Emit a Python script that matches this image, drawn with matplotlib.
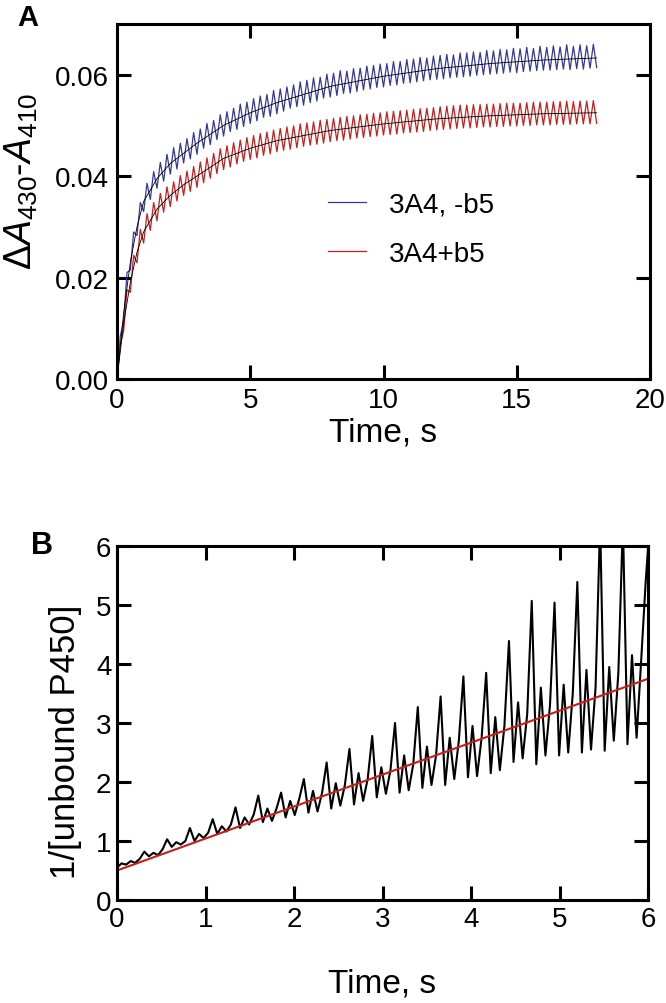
import numpy as np
import matplotlib
matplotlib.use("Agg")
import matplotlib.pyplot as plt

plt.rcParams['font.family'] = ['Liberation Sans', 'DejaVu Sans']
plt.rcParams['mathtext.fontset'] = 'custom'
plt.rcParams['mathtext.rm'] = 'Liberation Sans'
plt.rcParams['mathtext.it'] = 'Liberation Sans:italic'

# ---- panel A data (absorbance in units of 1e-3), sampled every 0.125 s from 0 to 18 s ----
dt_a = 0.125
blue_mabs = [
    0.0, 8.5, 11.5, 21.0, 21.5, 29.0, 28.3, 34.8, 33.0, 38.6, 35.4, 40.9, 37.6, 42.7, 39.0, 44.3,
    40.4, 45.6, 41.4, 46.5, 42.6, 47.4, 43.4, 48.6, 44.3, 49.3, 45.5, 50.4, 46.2, 51.0, 47.2, 52.1,
    47.9, 52.7, 48.8, 53.4, 49.2, 54.2, 49.8, 54.6, 50.4, 55.3, 50.9, 55.8, 51.6, 56.1, 51.8, 56.9,
    52.3, 57.2, 52.8, 57.6, 53.4, 58.0, 53.7, 58.6, 54.0, 58.9, 54.5, 59.4, 54.8, 59.5, 55.4, 60.1,
    55.6, 60.3, 55.9, 60.8, 56.3, 60.7, 56.4, 61.2, 56.7, 61.3, 57.0, 61.7, 57.2, 61.8, 57.5, 62.1,
    57.6, 62.2, 57.9, 62.6, 58.0, 62.6, 58.3, 63.0, 58.4, 63.1, 58.6, 63.4, 58.8, 63.3, 59.0, 63.7,
    59.1, 63.8, 59.2, 64.0, 59.4, 63.9, 59.5, 64.3, 59.6, 64.3, 59.7, 64.5, 59.9, 64.4, 60.0, 64.8,
    60.1, 64.7, 60.2, 65.0, 60.3, 64.9, 60.5, 65.2, 60.4, 65.1, 60.6, 65.4, 60.7, 65.2, 60.8, 65.6,
    60.9, 65.4, 60.9, 65.7, 61.0, 65.5, 61.1, 65.9, 61.0, 65.6, 61.2, 65.9, 61.1, 65.7, 61.3, 66.0,
    61.4,
]
red_mabs = [
    0.0, 6.8, 9.5, 17.6, 17.1, 24.4, 22.9, 29.5, 26.8, 32.6, 29.3, 34.8, 31.2, 36.6, 32.9, 37.9,
    34.0, 38.9, 35.1, 40.1, 36.2, 41.0, 37.0, 41.9, 37.8, 42.8, 38.7, 43.6, 39.6, 44.5, 40.5, 45.4,
    41.3, 46.0, 41.8, 46.6, 42.4, 47.1, 42.9, 47.6, 43.3, 48.0, 43.6, 48.4, 44.1, 48.7, 44.4, 49.1,
    44.8, 49.4, 45.1, 49.7, 45.3, 49.9, 45.6, 50.3, 45.9, 50.5, 46.1, 50.7, 46.3, 51.0, 46.5, 51.2,
    46.8, 51.4, 47.0, 51.6, 47.1, 51.8, 47.3, 51.9, 47.5, 52.1, 47.6, 52.2, 47.8, 52.4, 47.9, 52.5,
    48.1, 52.7, 48.2, 52.8, 48.3, 52.9, 48.5, 53.0, 48.6, 53.2, 48.7, 53.3, 48.8, 53.4, 49.0, 53.5,
    49.1, 53.7, 49.2, 53.8, 49.3, 53.9, 49.4, 54.0, 49.5, 54.0, 49.5, 54.1, 49.6, 54.1, 49.7, 54.2,
    49.7, 54.2, 49.8, 54.3, 49.8, 54.4, 49.9, 54.4, 49.9, 54.4, 50.0, 54.5, 50.0, 54.6, 50.1, 54.6,
    50.1, 54.6, 50.1, 54.7, 50.2, 54.7, 50.2, 54.8, 50.2, 54.7, 50.3, 54.8, 50.3, 54.8, 50.3, 54.9,
    50.4,
]
# fitted curves
fit_t_a = [0, 0.25, 0.5, 0.75, 1, 1.5, 2, 2.5, 3, 4, 5, 6, 8, 10, 12, 14, 16, 18]
fit_blue = [0, 0.013, 0.023, 0.030, 0.035, 0.0395, 0.0425, 0.0445, 0.0465, 0.050,
            0.0525, 0.0545, 0.0577, 0.0597, 0.0612, 0.0622, 0.0629, 0.0633]
fit_red = [0, 0.011, 0.019, 0.025, 0.029, 0.0335, 0.0362, 0.0383, 0.040, 0.0435,
           0.0455, 0.047, 0.049, 0.0503, 0.0513, 0.0519, 0.0523, 0.0525]

# ---- panel B data, sampled every 0.0515 s ----
dt_b = 0.0515
inv_unbound = [
    0.55,
    0.62, 0.60, 0.66, 0.63, 0.70,
    0.82, 0.74, 0.80, 0.76, 0.86,
    1.03, 0.90, 0.98, 0.94, 1.00,
    1.22, 1.00, 1.12, 1.05, 1.14,
    1.37, 1.12, 1.25, 1.16, 1.28,
    1.57, 1.22, 1.40, 1.28, 1.45,
    1.77, 1.32, 1.55, 1.34, 1.55,
    1.82, 1.40, 1.68, 1.44, 1.72,
    2.05, 1.48, 1.85, 1.50, 1.82,
    2.33, 1.55, 1.98, 1.60, 1.95,
    2.56, 1.62, 2.15, 1.68, 2.05,
    2.78, 1.74, 2.25, 1.80, 2.20,
    3.00, 1.82, 2.45, 1.86, 2.30,
    3.27, 1.90, 2.60, 1.95, 2.45,
    3.45, 1.95, 2.75, 2.05, 2.70,
    3.79, 2.08, 2.95, 2.10, 2.75,
    3.85, 2.15, 3.10, 2.20, 2.95,
    4.39, 2.34, 3.35, 2.40, 3.15,
    5.07, 2.30, 3.60, 2.45, 3.30,
    5.04, 2.45, 3.65, 2.50, 3.50,
    5.39, 2.50, 3.90, 2.55, 3.60,
    6.40, 2.53, 3.95, 2.70, 3.85,
    6.40, 2.64, 4.15, 2.75, 4.05,
    5.40, 6.50,
]
fit_t_b = [0, 6]
fit_b = [0.5, 3.75]

t_a = np.arange(len(blue_mabs)) * dt_a
t_b = np.arange(len(inv_unbound)) * dt_b

blue = '#35389a'
red = '#c41f1d'

fig = plt.figure(figsize=(6.66, 10.04), dpi=100)
axA = fig.add_axes([117/666, 1-380/1004, 533/666, 355/1004])
axB = fig.add_axes([117/666, 1-901/1004, 531/666, 354/1004])

axA.plot(t_a, np.array(blue_mabs)*1e-3, color=blue, lw=0.9, label='3A4, -b5')
axA.plot(t_a, np.array(red_mabs)*1e-3, color=red, lw=0.9, label='3A4+b5')
axA.plot(fit_t_a, fit_blue, color='k', lw=0.6)
axA.plot(fit_t_a, fit_red, color='k', lw=0.6)
axA.set_xlim(0, 20)
axA.set_ylim(0, 0.07)
axA.set_xticks([0, 5, 10, 15, 20])
axA.set_yticks([0, 0.02, 0.04, 0.06])
axA.set_yticklabels(['0.00', '0.02', '0.04', '0.06'])
axA.set_xlabel('Time, s', fontsize=24, labelpad=2)
axA.set_ylabel('Δ$\\mathit{A}_{430}$-$\\mathit{A}_{410}$', fontsize=27)
axA.yaxis.set_label_coords(-0.145, 0.56)
axA.legend(loc='upper left', bbox_to_anchor=(0.395, 0.527), frameon=False, fontsize=20,
           handlelength=1.4, handletextpad=0.8, labelspacing=0.82, borderpad=0, borderaxespad=0)

axB.plot(t_b, inv_unbound, color='k', lw=1.5)
axB.plot(fit_t_b, fit_b, color=red, lw=1.5)
axB.set_xlim(0, 6)
axB.set_ylim(0, 6)
axB.set_xticks(range(7))
axB.set_yticks(range(7))
axB.set_xlabel('Time, s', fontsize=24, labelpad=26)
axB.set_ylabel('1/[unbound P450]', fontsize=25)
axB.yaxis.set_label_coords(-0.066, 0.45)

for ax in (axA, axB):
    for sp in ax.spines.values():
        sp.set_linewidth(2.2)
    ax.tick_params(direction='in', length=10, width=2.2, top=True, right=True,
                   labelsize=20, pad=6)
axB.tick_params(pad=4)

fig.text(28/666, 1-18/1004, 'A', fontsize=21, fontweight='bold', ha='center', va='center')
fig.text(42/666, 1-546/1004, 'B', fontsize=22, fontweight='bold', ha='center', va='center')

fig.savefig('out.png', dpi=100)
